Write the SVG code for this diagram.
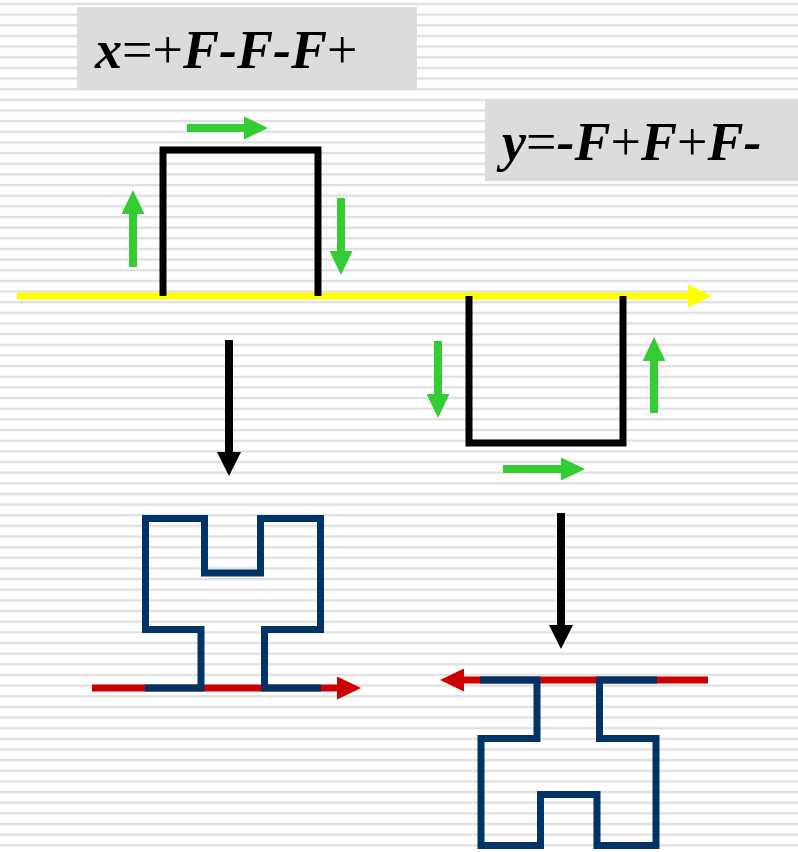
<svg xmlns="http://www.w3.org/2000/svg" width="798" height="852" viewBox="0 0 798 852">
  <defs>
    <!-- horizontal ruled background -->
    <pattern id="stripes" x="0" y="0" width="798" height="10.65" patternUnits="userSpaceOnUse">
      <rect x="0" y="2.8" width="798" height="2.4" fill="#e0e0e0"/>
    </pattern>
    <marker id="headGreen" viewBox="0 0 24 23" refX="0" refY="11.5" markerUnits="userSpaceOnUse" markerWidth="24" markerHeight="23" orient="auto">
      <path d="M0 0 L24 11.5 L0 23 Z" fill="#33cc33"/>
    </marker>
    <marker id="headBlack" viewBox="0 0 24 24" refX="0" refY="12" markerUnits="userSpaceOnUse" markerWidth="24" markerHeight="24" orient="auto">
      <path d="M0 0 L24 12 L0 24 Z" fill="#000"/>
    </marker>
    <marker id="headYellow" viewBox="0 0 24 23" refX="0" refY="11.5" markerUnits="userSpaceOnUse" markerWidth="24" markerHeight="23" orient="auto">
      <path d="M0 0 L24 11.5 L0 23 Z" fill="#ffff00"/>
    </marker>
    <marker id="headRed" viewBox="0 0 24 23" refX="0" refY="11.5" markerUnits="userSpaceOnUse" markerWidth="24" markerHeight="23" orient="auto">
      <path d="M0 0 L24 11.5 L0 23 Z" fill="#cc0000"/>
    </marker>
  </defs>
  <style>
    .label { font-family: "Liberation Serif", "Times New Roman", serif; font-size: 54px; fill: #000; }
    .bi { font-weight: bold; font-style: italic; }
    .box { fill: #dcdcdc; }
    .green { stroke: #33cc33; stroke-width: 8; fill: none; marker-end: url(#headGreen); }
    .black { stroke: #000; stroke-width: 8; fill: none; marker-end: url(#headBlack); }
    .square { stroke: #000; stroke-width: 7; fill: none; stroke-linejoin: miter; }
    .curve { stroke: #003366; stroke-width: 7; fill: none; stroke-linejoin: miter; }
    .axisY { stroke: #ffff00; stroke-width: 7; fill: none; marker-end: url(#headYellow); }
    .axisR { stroke: #cc0000; stroke-width: 7; fill: none; marker-end: url(#headRed); }
  </style>

  <rect x="0" y="0" width="798" height="852" fill="#ffffff"/>
  <rect x="0" y="0" width="798" height="852" fill="url(#stripes)"/>

  <!-- rule labels -->
  <g id="rule-x">
    <rect class="box" x="77" y="7" width="340" height="83"/>
    <text class="label" x="95" y="68"><tspan class="bi">x</tspan>=+<tspan class="bi">F-F-F</tspan>+</text>
  </g>
  <g id="rule-y">
    <rect class="box" x="485" y="100" width="313" height="81"/>
    <text class="label" x="502" y="160"><tspan class="bi">y</tspan>=<tspan class="bi">-F</tspan>+<tspan class="bi">F</tspan>+<tspan class="bi">F-</tspan></text>
  </g>

  <!-- base axis -->
  <g id="axis">
    <path class="axisY" d="M17 296 H688"/>
  </g>

  <!-- generator shapes -->
  <g id="square-x">
    <path class="square" d="M163 296 V150 H318 V296"/>
  </g>
  <g id="square-y">
    <path class="square" d="M469 296 V443 H623 V296"/>
  </g>

  <!-- first-level curves -->
  <g id="curve-x">
    <path class="axisR" d="M92 688 H337"/>
    <path class="curve" d="M145 688 H201 V629.5 H145.5 V518.5 H204.5 V573 H260.5 V518.5 H320.5 V629.5 H264.5 V688 H321"/>
  </g>
  <g id="curve-y">
    <path class="axisR" d="M708 680 H464"/>
    <path class="curve" d="M480 680 H537 V738.5 H481 V845.5 H540.5 V794.5 H597 V845.5 H656 V738.5 H599.5 V680 H657"/>
  </g>

  <!-- direction arrows and transitions -->
  <g id="connectors">
    <path class="green" d="M187 128 H244"/>
    <path class="green" d="M133 267 V214"/>
    <path class="green" d="M341 198 V251"/>
    <path class="green" d="M438 341 V394"/>
    <path class="green" d="M654 413 V361"/>
    <path class="green" d="M503 469 H561"/>
    <path class="black" d="M229 340 V452"/>
    <path class="black" d="M561 513 V625"/>
  </g>
</svg>
